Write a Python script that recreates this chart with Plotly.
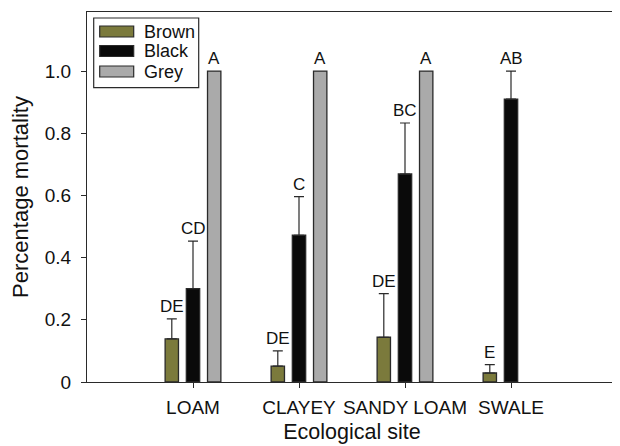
import plotly.graph_objects as go

sites = ["LOAM", "CLAYEY", "SANDY LOAM", "SWALE"]
series_names = ["Brown", "Black", "Grey"]
brown_vals = [0.139, 0.051, 0.144, 0.029]
brown_err = [0.064, 0.049, 0.140, 0.027]
black_vals = [0.300, 0.472, 0.669, 0.910]
black_err = [0.153, 0.124, 0.164, 0.090]
grey_vals = [1.0, 1.0, 1.0, None]
grey_err = [0, 0, 0, None]
brown_letters = ["DE", "DE", "DE", "E"]
black_letters = ["CD", "C", "BC", "AB"]
grey_letters = ["A", "A", "A", ""]
y_ticks = [0, 0.2, 0.4, 0.6, 0.8, 1.0]
y_ticklabels = ["0", "0.2", "0.4", "0.6", "0.8", "1.0"]

colors = ["#7b7a3c", "#0a0a0a", "#aaaaaa"]
FONT = "Liberation Sans, Arial, Helvetica, sans-serif"
LINE = "#2a2a2a"

fig = go.Figure()
all_vals = [brown_vals, black_vals, grey_vals]
all_errs = [brown_err, black_err, grey_err]
all_letters = [brown_letters, black_letters, grey_letters]
for name, vals, errs, col in zip(series_names, all_vals, all_errs, colors):
    show_err = name != "Grey"
    fig.add_trace(go.Bar(
        x=sites, y=vals, name=name, showlegend=False,
        marker=dict(color=col, line=dict(color=LINE, width=1.3)),
        error_y=dict(type="data", array=errs, arrayminus=[0] * len(errs),
                     symmetric=False, visible=show_err, color=LINE,
                     thickness=1.2, width=5),
    ))

# significance letters above bars / error bars
offsets = [-0.2, 0.0, 0.2]
for off, vals, errs, letters in zip(offsets, all_vals, all_errs, all_letters):
    for i, (v, e, t) in enumerate(zip(vals, errs, letters)):
        if v is None or not t:
            continue
        fig.add_annotation(x=i + off, y=v + (e or 0), text=t, showarrow=False,
                           xanchor="center", yanchor="bottom", yshift=1,
                           font=dict(family=FONT, size=17, color="#111"))

# legend drawn in pixel offsets from the plot's top-left corner
def px_rect(x0, x1, y0, y1, fill, lw):
    fig.add_shape(type="rect", xref="paper", yref="paper",
                  xsizemode="pixel", ysizemode="pixel", xanchor=0, yanchor=1,
                  x0=x0, x1=x1, y0=y0, y1=y1, fillcolor=fill,
                  line=dict(color=LINE, width=lw), layer="above")

px_rect(6.7, 111.7, -6, -75.6, "white", 1.2)
row_tops = [-14, -33.5, -54]
for name, col, top in zip(series_names, colors, row_tops):
    px_rect(12.7, 46.7, top, top - 11, col, 1.2)
    fig.add_annotation(xref="paper", yref="paper", x=0, y=1, xshift=54.7,
                       yshift=top - 5.5, text=name, showarrow=False,
                       xanchor="left", yanchor="middle",
                       font=dict(family=FONT, size=18, color="#111"))

fig.update_layout(
    width=612, height=438,
    margin=dict(l=79, r=3, t=4, b=64),
    paper_bgcolor="white", plot_bgcolor="white",
    barmode="group", bargap=0.4, bargroupgap=0.37,
    font=dict(family=FONT, size=19, color="#111"),
    showlegend=False,
    xaxis=dict(type="category", range=[-1, 4], showgrid=False,
               showline=True, linecolor=LINE, linewidth=1.3, mirror=True,
               ticks="outside", ticklen=5, tickwidth=1.2, tickcolor=LINE,
               ticklabelstandoff=3,
               title=dict(text="Ecological site", font=dict(size=21.5), standoff=6)),
    yaxis=dict(range=[0, 1.19], showgrid=False, zeroline=False,
               showline=True, linecolor=LINE, linewidth=1.3, mirror=True,
               ticks="outside", ticklen=5, tickwidth=1.2, tickcolor=LINE,
               tickvals=y_ticks, ticktext=y_ticklabels, ticklabelstandoff=6,
               title=dict(text="Percentage mortality", font=dict(size=22), standoff=9)),
)

fig.write_html("out.html")
